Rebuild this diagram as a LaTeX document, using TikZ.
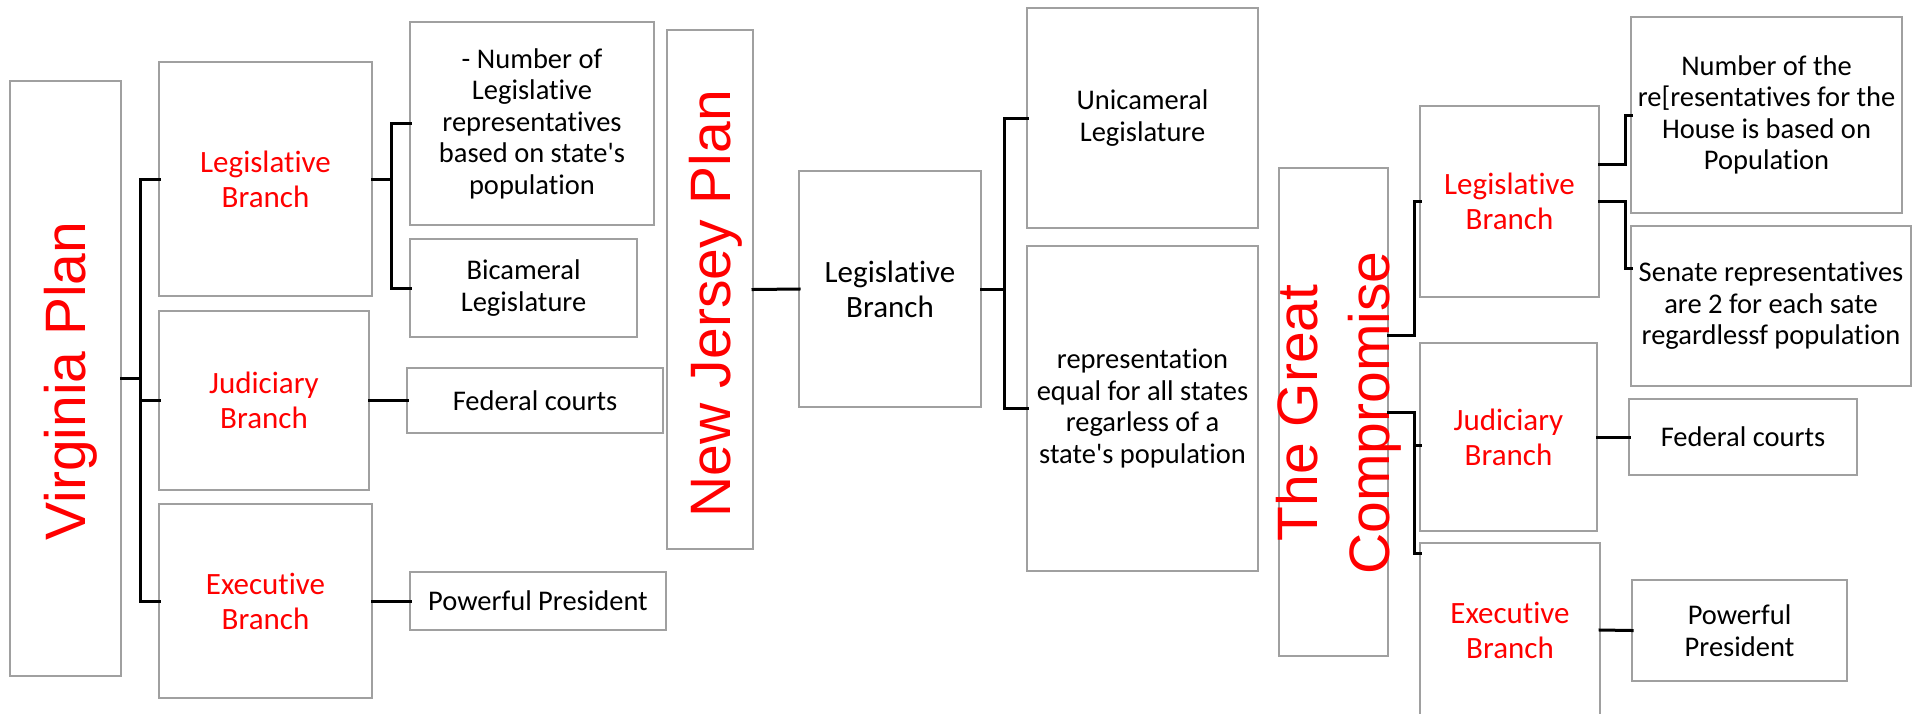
\documentclass[tikz,border=0pt]{standalone}
\usepackage{fontspec}
\setmainfont{Carlito}[Ligatures={TeXOff,NoCommon}]
\newfontfamily\titlefont{Liberation Sans}[Ligatures={TeXOff,NoCommon}]
\definecolor{boxgray}{HTML}{A0A0A0}
\definecolor{titlered}{HTML}{FF0000}
\tikzset{
  box/.style={draw=boxgray, line width=2pt, inner sep=0pt, outer sep=0pt, align=center, fill=white},
  redtxt/.style={text=titlered, font=\fontsize{31}{35}\selectfont},
  bigtxt/.style={font=\fontsize{31}{35}\selectfont},
  smalltxt/.style={font=\fontsize{28.5}{31.5}\selectfont},
  title/.style={text=titlered, rotate=90, inner sep=0pt, align=center, font=\titlefont\fontsize{57}{72}\selectfont},
  conn/.style={draw=black, line width=3pt, line cap=rect}
}
\begin{document}
\begin{tikzpicture}[x=1pt,y=-1pt]
\useasboundingbox (0,0) rectangle (1921,713);
\fill[white] (0,0) rectangle (1921,713);

% ---------- Virginia Plan ----------
\node[box, minimum width=111pt, minimum height=595pt] (va) at (65.5,378.5) {};
\node[title] (vat) at (70.5,381) {Virginia Plan};
\node[box, redtxt, minimum width=213pt, minimum height=234pt] (valeg) at (265.5,179) {Legislative\\Branch};
\node[box, smalltxt, minimum width=244pt, minimum height=203pt] (vanum) at (532,123.5) {- Number of\\Legislative\\representatives\\based on state's\\population};
\node[box, smalltxt, minimum width=227pt, minimum height=98pt] (vabic) at (523.5,288) {Bicameral\\Legislature};
\node[box, redtxt, minimum width=210pt, minimum height=179pt] (vajud) at (264,400.5) {Judiciary\\Branch};
\node[box, smalltxt, minimum width=256pt, minimum height=65pt] (vafed) at (535,400.5) {Federal courts};
\node[box, redtxt, minimum width=213pt, minimum height=194pt] (vaexe) at (265.5,601) {Executive\\Branch};
\node[box, smalltxt, minimum width=256pt, minimum height=58pt] (vapres) at (538,601) {Powerful President};

\draw[conn] (va.east) -- ++(19,0) |- (valeg.west);
\draw[conn] (va.east) -- ++(19,0) |- (vajud.west);
\draw[conn] (va.east) -- ++(19,0) |- (vaexe.west);
\draw[conn] (valeg.east) -- ++(19,0) |- (vanum.west);
\draw[conn] (valeg.east) -- ++(19,0) |- (vabic.west);
\draw[conn] (vajud.east) -- (vafed.west);
\draw[conn] (vaexe.east) -- (vapres.west);

% ---------- New Jersey Plan ----------
\node[box, minimum width=86pt, minimum height=519pt] (nj) at (710,289.5) {};
\node[title] (njt) at (715.5,304) {New Jersey Plan};
\node[box, bigtxt, minimum width=182pt, minimum height=236pt] (njleg) at (890,289) {Legislative\\Branch};
\node[box, smalltxt, minimum width=231pt, minimum height=220pt] (njuni) at (1142.5,118) {Unicameral\\Legislature};
\node[box, smalltxt, minimum width=231pt, minimum height=325pt] (njrep) at (1142.5,408.5) {representation\\equal for all states\\regarless of a\\state's population};

\draw[conn] (nj.east) -- (njleg.west);
\draw[conn] (njleg.east) -- ++(23,0) |- (njuni.west);
\draw[conn] (njleg.east) -- ++(23,0) |- (njrep.west);

% ---------- The Great Compromise ----------
\node[box, minimum width=109pt, minimum height=488pt] (gc) at (1333.5,412) {};
\node[title] (gct) at (1338.5,413) {The Great\\Compromise};
\node[box, redtxt, minimum width=179pt, minimum height=191pt] (gcleg) at (1509.5,201.5) {Legislative\\Branch};
\node[box, smalltxt, minimum width=271pt, minimum height=196pt] (gcnum) at (1766.5,115) {Number of the\\re[resentatives for the\\House is based on\\Population};
\node[box, smalltxt, minimum width=280pt, minimum height=160pt] (gcsen) at (1771,306) {Senate representatives\\are 2 for each sate\\regardlessf population};
\node[box, redtxt, minimum width=177pt, minimum height=188pt] (gcjud) at (1508.5,437) {Judiciary\\Branch};
\node[box, smalltxt, minimum width=228pt, minimum height=76pt] (gcfed) at (1743,437) {Federal courts};
\node[box, redtxt, minimum width=180pt, minimum height=174pt] (gcexe) at (1510,630) {Executive\\Branch};
\node[box, smalltxt, minimum width=215pt, minimum height=101pt] (gcpres) at (1739.5,630.5) {Powerful\\President};

\draw[conn] ([yshift=77pt]gc.east) -- ++(26,0) |- (gcleg.west);
\draw[conn] (gc.east) -- ++(26,0) |- ([yshift=-8pt]gcjud.west);
\draw[conn] (gc.east) -- ++(26,0) |- ([yshift=77pt]gcexe.west);
\draw[conn] ([yshift=37.5pt]gcleg.east) -- ++(26,0) |- (gcnum.west);
\draw[conn] (gcleg.east) -- ++(26,0) |- ([yshift=38pt]gcsen.west);
\draw[conn] (gcjud.east) -- (gcfed.west);
\draw[conn] (gcexe.east) -- (gcpres.west);
\end{tikzpicture}
\end{document}
